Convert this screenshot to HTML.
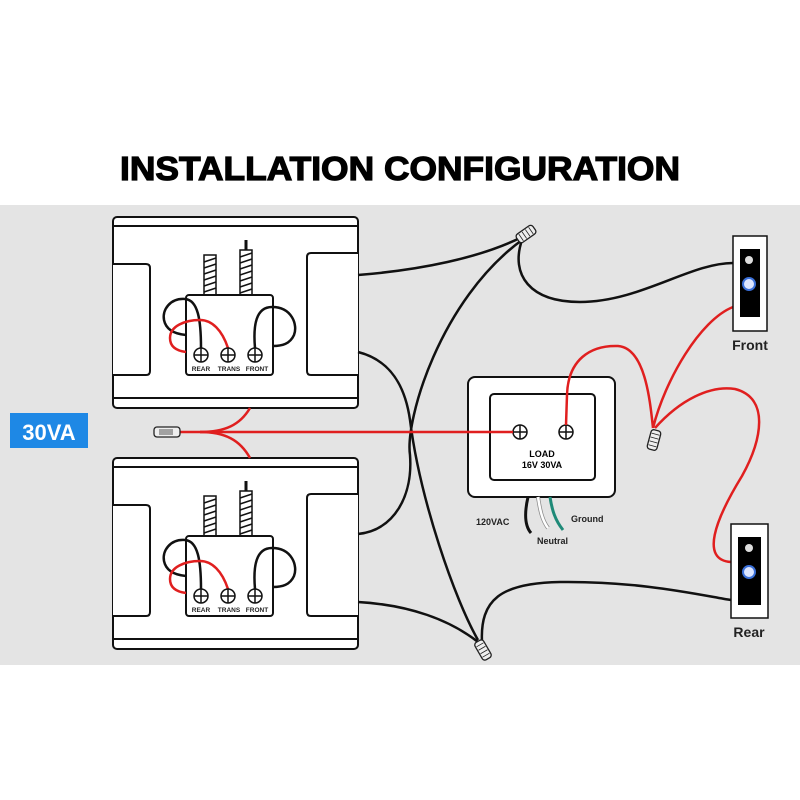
<!DOCTYPE html>
<html><head><meta charset="utf-8"><style>
html,body{margin:0;padding:0;background:#fff;}
svg{display:block;font-family:"Liberation Sans",Arial,sans-serif;}
</style></head><body>
<svg width="800" height="800" viewBox="0 0 800 800">
<rect x="0" y="0" width="800" height="800" fill="#fff"/>
<rect x="0" y="205" width="800" height="460" fill="#e4e4e4"/>
<text x="400" y="180" text-anchor="middle" font-size="33" font-weight="bold" textLength="560" lengthAdjust="spacingAndGlyphs" stroke="#000" stroke-width="1.2">INSTALLATION CONFIGURATION</text>

<!-- 30VA -->
<rect x="10" y="413" width="78" height="35" fill="#1e88e5"/>
<text x="49" y="440" text-anchor="middle" font-size="22" font-weight="bold" fill="#fff">30VA</text>

<!-- chime top -->
<g id="c1" fill="#fff" stroke="#111" stroke-width="2">
<rect x="113" y="217" width="245" height="191" rx="4"/>
<line x1="113" y1="226" x2="358" y2="226"/>
<line x1="113" y1="398" x2="358" y2="398"/>
<path d="M113 264 H146 Q150 264 150 268 V371 Q150 375 146 375 H113"/>
<path d="M358 253 H311 Q307 253 307 257 V371 Q307 375 311 375 H358"/>
<g stroke-width="1.5"><rect x="204" y="255" width="12" height="40" fill="#fff"/><path d="M204 262 L216 258 M204 268 L216 264 M204 274 L216 270 M204 280 L216 276 M204 286 L216 282 M204 292 L216 288" fill="none"/>
<rect x="240" y="250" width="12" height="45" fill="#fff"/><path d="M240 257 L252 253 M240 263 L252 259 M240 269 L252 265 M240 275 L252 271 M240 281 L252 277 M240 287 L252 283 M240 293 L252 289" fill="none"/><line x1="246" y1="240" x2="246" y2="250" stroke-width="3"/></g>
<rect x="186" y="295" width="87" height="80" rx="3"/>
<path d="M201 348 C201 320 198 300 185 299 C170 298 162 310 164 320 C166 330 175 334 186 335" fill="none" stroke-width="2.5"/>
<path d="M228 348 C222 330 212 320 200 320 C185 320 170 326 170 338 C170 348 178 351 186 352" fill="none" stroke="#e01f1f" stroke-width="2.5"/>
<path d="M255 348 C253 325 256 307 272 307 C292 307 298 325 294 335 C290 344 282 346 273 346" fill="none" stroke-width="2.5"/>
<g stroke-width="1.5"><circle cx="201" cy="355" r="7"/><circle cx="228" cy="355" r="7"/><circle cx="255" cy="355" r="7"/>
<path d="M194 355 H208 M201 348 V362 M221 355 H235 M228 348 V362 M248 355 H262 M255 348 V362"/></g>
</g>
<g font-size="6.5" font-weight="bold" fill="#222" text-anchor="middle"><text x="201" y="371">REAR</text><text x="229" y="371">TRANS</text><text x="257" y="371">FRONT</text></g>
<!-- chime bottom -->
<g transform="translate(0,241)">
<g fill="#fff" stroke="#111" stroke-width="2">
<rect x="113" y="217" width="245" height="191" rx="4"/>
<line x1="113" y1="226" x2="358" y2="226"/>
<line x1="113" y1="398" x2="358" y2="398"/>
<path d="M113 264 H146 Q150 264 150 268 V371 Q150 375 146 375 H113"/>
<path d="M358 253 H311 Q307 253 307 257 V371 Q307 375 311 375 H358"/>
<g stroke-width="1.5"><rect x="204" y="255" width="12" height="40"/><path d="M204 262 L216 258 M204 268 L216 264 M204 274 L216 270 M204 280 L216 276 M204 286 L216 282 M204 292 L216 288" fill="none"/>
<rect x="240" y="250" width="12" height="45"/><path d="M240 257 L252 253 M240 263 L252 259 M240 269 L252 265 M240 275 L252 271 M240 281 L252 277 M240 287 L252 283 M240 293 L252 289" fill="none"/><line x1="246" y1="240" x2="246" y2="250" stroke-width="3"/></g>
<rect x="186" y="295" width="87" height="80" rx="3"/>
<path d="M201 348 C201 320 198 300 185 299 C170 298 162 310 164 320 C166 330 175 334 186 335" fill="none" stroke-width="2.5"/>
<path d="M228 348 C222 330 212 320 200 320 C185 320 170 326 170 338 C170 348 178 351 186 352" fill="none" stroke="#e01f1f" stroke-width="2.5"/>
<path d="M255 348 C253 325 256 307 272 307 C292 307 298 325 294 335 C290 344 282 346 273 346" fill="none" stroke-width="2.5"/>
<g stroke-width="1.5"><circle cx="201" cy="355" r="7"/><circle cx="228" cy="355" r="7"/><circle cx="255" cy="355" r="7"/>
<path d="M194 355 H208 M201 348 V362 M221 355 H235 M228 348 V362 M248 355 H262 M255 348 V362"/></g>
</g>
<g font-size="6.5" font-weight="bold" fill="#222" text-anchor="middle"><text x="201" y="371">REAR</text><text x="229" y="371">TRANS</text><text x="257" y="371">FRONT</text></g>
</g>

<!-- transformer -->
<rect x="468" y="377" width="147" height="120" rx="7" fill="#fff" stroke="#111" stroke-width="2"/>
<rect x="490" y="394" width="105" height="86" rx="4" fill="#fff" stroke="#111" stroke-width="2"/>
<g fill="#fff" stroke="#111" stroke-width="1.5"><circle cx="520" cy="432" r="7"/><circle cx="566" cy="432" r="7"/><path d="M513 432 H527 M520 425 V439 M559 432 H573 M566 425 V439"/></g>
<text x="542" y="457" text-anchor="middle" font-size="9" font-weight="bold">LOAD</text>
<text x="542" y="468" text-anchor="middle" font-size="9" font-weight="bold">16V 30VA</text>
<path d="M528 497 C525 510 524 525 531 533" fill="none" stroke="#111" stroke-width="3"/>
<path d="M538 497 C540 510 542 520 548 528" fill="none" stroke="#888" stroke-width="4"/>
<path d="M538 497 C540 510 542 520 548 528" fill="none" stroke="#fff" stroke-width="2.5"/>
<path d="M550 497 C552 510 555 520 563 530" fill="none" stroke="#1f8a78" stroke-width="3"/>
<g font-size="9" font-weight="bold" fill="#222"><text x="476" y="525">120VAC</text><text x="537" y="544">Neutral</text><text x="571" y="522">Ground</text></g>

<!-- black wires -->
<g fill="none" stroke="#111" stroke-width="2.5">
<path d="M358 275 C420 270 480 258 522 237"/>
<path d="M522 240 C440 300 405 420 410 455 C413 495 395 530 358 534"/>
<path d="M358 352 C390 360 405 385 410 420 C420 500 455 600 478 640"/>
<path d="M358 602 C410 605 450 620 478 642"/>
<path d="M522 240 C510 275 530 302 580 302 C640 302 690 263 733 263"/>
<path d="M482 642 C480 600 500 583 560 582 C640 581 700 595 731 600"/>
</g>
<!-- red wires -->
<g fill="none" stroke="#e01f1f" stroke-width="2.5">
<path d="M178 432 L513 432"/>
<path d="M200 432 C225 432 240 425 250 408"/>
<path d="M200 432 C225 432 240 440 250 458"/>
<path d="M566 425 L567 395 C568 360 590 345 618 346 C645 348 650 400 653 428"/>
<path d="M733 307 C700 320 665 380 653 428"/>
<path d="M655 428 C680 400 710 385 735 389 C770 398 762 440 742 476 C715 520 700 560 731 562"/>
</g>
<!-- connectors -->
<g fill="#eee" stroke="#222" stroke-width="1.3">
<g transform="translate(526,234) rotate(-35)"><rect x="-10" y="-5" width="20" height="10" rx="3"/><path d="M-6 -4 V4 M-2 -4 V4 M2 -4 V4 M6 -4 V4" stroke-width="0.8"/></g>
<g transform="translate(483,650) rotate(60)"><rect x="-10" y="-5" width="20" height="10" rx="3"/><path d="M-6 -4 V4 M-2 -4 V4 M2 -4 V4 M6 -4 V4" stroke-width="0.8"/></g>
<g transform="translate(654,440) rotate(-75)"><rect x="-10" y="-5" width="20" height="10" rx="3"/><path d="M-6 -4 V4 M-2 -4 V4 M2 -4 V4 M6 -4 V4" stroke-width="0.8"/></g>
<g transform="translate(167,432)"><rect x="-13" y="-5" width="26" height="10" rx="3"/><path d="M-8 -2 H6 M-8 0 H6 M-8 2 H6" stroke-width="0.8"/></g>
</g>
<!-- doorbells -->
<rect x="733" y="236" width="34" height="95" fill="#fff" stroke="#111" stroke-width="1.5"/>
<rect x="740" y="249" width="20" height="68" fill="#000"/>
<circle cx="749" cy="260" r="4" fill="#ddd"/>
<circle cx="749" cy="284" r="6" fill="#dde6ff" stroke="#3a6fd8" stroke-width="2"/>
<text x="750" y="350" text-anchor="middle" font-size="14" font-weight="bold" fill="#222">Front</text>
<rect x="731" y="524" width="37" height="94" fill="#fff" stroke="#111" stroke-width="1.5"/>
<rect x="738" y="537" width="23" height="68" fill="#000"/>
<circle cx="749" cy="548" r="4" fill="#ddd"/>
<circle cx="749" cy="572" r="6" fill="#dde6ff" stroke="#3a6fd8" stroke-width="2"/>
<text x="749" y="637" text-anchor="middle" font-size="14" font-weight="bold" fill="#222">Rear</text>
</svg>
</body></html>
